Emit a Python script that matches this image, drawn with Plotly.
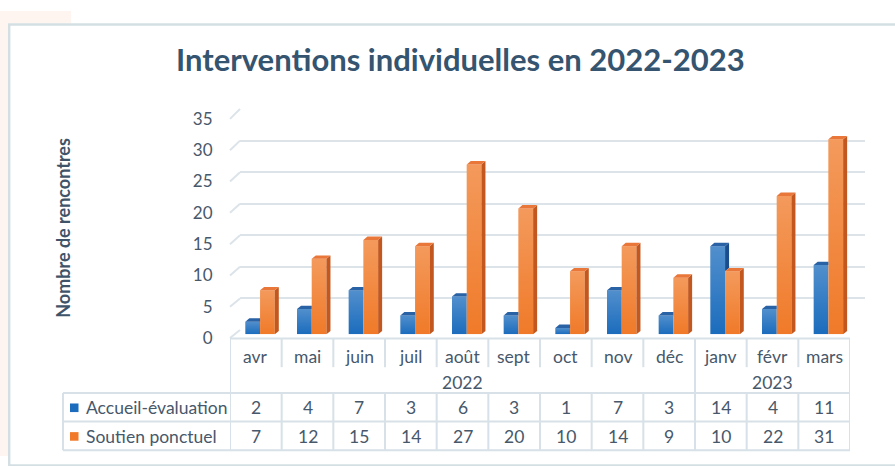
import plotly.graph_objects as go

# ---------------- data ----------------
months = ["avr", "mai", "juin", "juil", "août", "sept", "oct", "nov", "déc", "janv", "févr", "mars"]
years = ["2022", "2023"]
year_spans = [(0, 8), (9, 11)]
series_names = ["Accueil-évaluation", "Soutien ponctuel"]
accueil = [2, 4, 7, 3, 6, 3, 1, 7, 3, 14, 4, 11]
soutien = [7, 12, 15, 14, 27, 20, 10, 14, 9, 10, 22, 31]
y_ticks = [0, 5, 10, 15, 20, 25, 30, 35]
title_text = "Interventions individuelles en 2022-2023"
y_title = "Nombre de rencontres"

# ---------------- layout helpers ----------------
W, H = 895, 466
def px(x):
    return x / W
def py(y):
    return 1 - y / H

FONT = "Lato"
TXT = "#47586b"
LINE = "#d7e1e7"
BLUE, BLUE_SIDE, BLUE_TOP = "#1b6cbd", "#1b4d8c", "#2a62a6"
ORANGE, ORANGE_SIDE, ORANGE_TOP = "#f07a29", "#c2581f", "#e9773a"

n = len(months)
idx = list(range(n))
xr = [-0.5, n - 0.5]

# planes (pixel positions)
FX0, FX1 = 230, 850          # front plane / table columns
F0, F35 = 342.5, 113         # front y of 0 and 35
B0, B35 = 334, 102.7         # back wall y of 0 and 35
BX0, BX1 = 240, 865
M0, M35 = 338.5, 108         # bars plane
cat_px = (FX1 - FX0) / n
unit_mid = (M0 - M35) / 35

bw = 0.285
off_a = -0.203
off_s = off_a + bw
dx = 4.0 / cat_px
dy = 3.5 / unit_mid

fig = go.Figure()

fig.add_trace(go.Scatter(x=[None], y=[None], xaxis="x", yaxis="y", showlegend=False))
fig.add_trace(go.Scatter(x=[None], y=[None], xaxis="x2", yaxis="y2", showlegend=False))

# bars
fig.add_trace(go.Bar(x=idx, y=accueil, width=bw, offset=off_a, marker=dict(color=BLUE, line=dict(width=0)),
                     xaxis="x3", yaxis="y3", name=series_names[0], showlegend=False))
fig.add_trace(go.Bar(x=idx, y=soutien, width=bw, offset=off_s, marker=dict(color=ORANGE, line=dict(width=0)),
                     xaxis="x3", yaxis="y3", name=series_names[1], showlegend=False))

def poly_trace(xs, ys, color):
    return go.Scatter(x=xs, y=ys, fill="toself", fillcolor=color, mode="lines", line=dict(width=0),
                      xaxis="x3", yaxis="y3", showlegend=False, hoverinfo="skip")

# light overlays (gradient) on the front faces
for vals, off in ((accueil, off_a), (soutien, off_s)):
    for i, v in enumerate(vals):
        xl, xrt = i + off, i + off + bw
        fig.add_trace(go.Scatter(x=[xl, xrt, xrt, xl, xl], y=[0, 0, v, v, 0], fill="toself", mode="lines",
                                 line=dict(width=0), xaxis="x3", yaxis="y3", showlegend=False, hoverinfo="skip",
                                 fillgradient=dict(type="vertical",
                                                   colorscale=[[0, "rgba(255,255,255,0)"], [1, "rgba(255,255,255,0.24)"]])))

# blue sides / tops (clipped by the orange bar in front)
sx, sy, tx, ty = [], [], [], []
for i, (a, s) in enumerate(zip(accueil, soutien)):
    xl, xrt = i + off_a, i + off_a + bw
    if a > s:
        sx += [xrt, xrt, xrt + dx, xrt + dx, xrt, None]
        sy += [s, a, a + dy, s + dy, s, None]
        tx += [xl, xrt, xrt + dx, xl + dx, xl, None]
        ty += [a, a, a + dy, a + dy, a, None]
    else:
        tx += [xl, xrt, xrt, xl + dx, xl, None]
        ty += [a, a, a + dy, a + dy, a, None]
fig.add_trace(poly_trace(sx, sy, BLUE_SIDE))
fig.add_trace(poly_trace(tx, ty, BLUE_TOP))

# orange sides / tops
sx, sy, tx, ty = [], [], [], []
for i, s in enumerate(soutien):
    xl, xrt = i + off_s, i + off_s + bw
    sx += [xrt, xrt, xrt + dx, xrt + dx, xrt, None]
    sy += [0, s, s + dy, dy, 0, None]
    tx += [xl, xrt, xrt + dx, xl + dx, xl, None]
    ty += [s, s, s + dy, s + dy, s, None]
fig.add_trace(poly_trace(sx, sy, ORANGE_SIDE))
fig.add_trace(poly_trace(tx, ty, ORANGE_TOP))

hidden = dict(showticklabels=False, showgrid=False, zeroline=False, showline=False, ticks="", fixedrange=True)

fig.update_layout(
    width=W, height=H,
    margin=dict(l=0, r=0, t=0, b=0),
    paper_bgcolor="white", plot_bgcolor="rgba(0,0,0,0)",
    showlegend=False,
    barmode="overlay",
    xaxis=dict(domain=[px(BX0), px(BX1)], range=xr, **hidden),
    yaxis=dict(domain=[py(B0), py(B35)], range=[0, 35], tickvals=y_ticks, showticklabels=False,
               showgrid=True, gridcolor="#dce4ea", gridwidth=2, zeroline=False, showline=False, ticks=""),
    xaxis2=dict(domain=[px(FX0), px(FX1)], range=xr, anchor="y2", **hidden),
    yaxis2=dict(domain=[py(F0), py(F35)], range=[0, 35], anchor="x2", tickvals=y_ticks,
                showgrid=False, zeroline=False, showline=False, ticks="outside", ticklen=13,
                tickcolor="rgba(0,0,0,0)", tickfont=dict(family=FONT, size=17, color=TXT)),
    xaxis3=dict(domain=[px(FX0), px(FX1)], range=xr, anchor="y3", **hidden),
    yaxis3=dict(domain=[py(M0), py(M35)], range=[0, 35], anchor="x3", **hidden),
)

shapes = []
# pink page background & chart border
shapes.append(dict(type="rect", xref="paper", yref="paper", x0=0, x1=px(71), y0=py(0), y1=py(13),
                   fillcolor="#fef4f0", line=dict(width=0), layer="below"))
shapes.append(dict(type="rect", xref="paper", yref="paper", x0=0, x1=px(8), y0=py(0), y1=py(H),
                   fillcolor="#fef4f0", line=dict(width=0), layer="below"))
shapes.append(dict(type="rect", xref="paper", yref="paper", x0=px(9.2), x1=px(W + 10), y0=py(14.2), y1=py(H + 10),
                   fillcolor="rgba(0,0,0,0)", line=dict(color="#d3dfe3", width=2.4), layer="below"))

# left diagonals of the wall
for v in y_ticks:
    fy = F0 - (F0 - F35) * v / 35
    by = B0 - (B0 - B35) * v / 35
    shapes.append(dict(type="line", xref="paper", yref="paper", x0=px(FX0), y0=py(fy), x1=px(BX0), y1=py(by),
                       line=dict(color="#dce4ea", width=2), layer="below"))

# table
def hline(y, x0p, x1p):
    shapes.append(dict(type="line", xref="paper", yref="paper", x0=px(x0p), x1=px(x1p), y0=py(y), y1=py(y),
                       line=dict(color=LINE, width=2)))
def vline(k, y0, y1):
    shapes.append(dict(type="line", xref="x2", yref="paper", x0=k - 0.5, x1=k - 0.5, y0=py(y0), y1=py(y1),
                       line=dict(color=LINE, width=2)))

hline(343, FX0, FX1)
for y in (400, 430, 460):
    hline(y, 63, FX1)
shapes.append(dict(type="line", xref="paper", yref="paper", x0=px(63), x1=px(63), y0=py(400), y1=py(460),
                   line=dict(color=LINE, width=2)))
year_bounds = [s for s, e in year_spans] + [n]
for k in range(n + 1):
    if k in year_bounds:
        vline(k, 343, 460)
    else:
        vline(k, 343, 373)
        vline(k, 400, 460)

# legend keys
for yc, col in ((415.5, BLUE), (445.5, ORANGE)):
    shapes.append(dict(type="rect", xref="paper", yref="paper", x0=px(70), x1=px(78.5), y0=py(yc - 4.5),
                       y1=py(yc + 4.5), fillcolor=col, line=dict(width=0)))

fig.update_layout(shapes=shapes)

FS = 17.5
ann = []
ann.append(dict(text=f"<b>{title_text}</b>", xref="paper", yref="paper", x=px(460), y=py(50), showarrow=False,
                font=dict(family=FONT, size=31, color="#35546f"), xanchor="center", yanchor="middle"))
ann.append(dict(text=f"<b>{y_title}</b>", xref="paper", yref="paper", x=px(63), y=py(227), showarrow=False,
                textangle=-90, font=dict(family=FONT, size=18, color="#3f5468"), xanchor="center", yanchor="middle"))
for i, m in enumerate(months):
    ann.append(dict(text=m, xref="x2", yref="paper", x=i, y=py(362), showarrow=False,
                    font=dict(family=FONT, size=FS, color=TXT), xanchor="center", yanchor="middle"))
    ann.append(dict(text=str(accueil[i]), xref="x2", yref="paper", x=i, y=py(415.5), showarrow=False,
                    font=dict(family=FONT, size=FS, color=TXT), xanchor="center", yanchor="middle"))
    ann.append(dict(text=str(soutien[i]), xref="x2", yref="paper", x=i, y=py(445.5), showarrow=False,
                    font=dict(family=FONT, size=FS, color=TXT), xanchor="center", yanchor="middle"))
for yl, (s, e) in zip(years, year_spans):
    ann.append(dict(text=yl, xref="x2", yref="paper", x=(s + e) / 2, y=py(389), showarrow=False,
                    font=dict(family=FONT, size=FS, color=TXT), xanchor="center", yanchor="middle"))
for name, yc in zip(series_names, (415.5, 445.5)):
    ann.append(dict(text=name, xref="paper", yref="paper", x=px(84), y=py(yc), showarrow=False,
                    font=dict(family=FONT, size=FS, color=TXT), xanchor="left", yanchor="middle"))
fig.update_layout(annotations=ann)

fig.write_html("out.html", config={"displayModeBar": False},
               post_script="document.body.style.margin='0';document.body.style.overflow='hidden';")
